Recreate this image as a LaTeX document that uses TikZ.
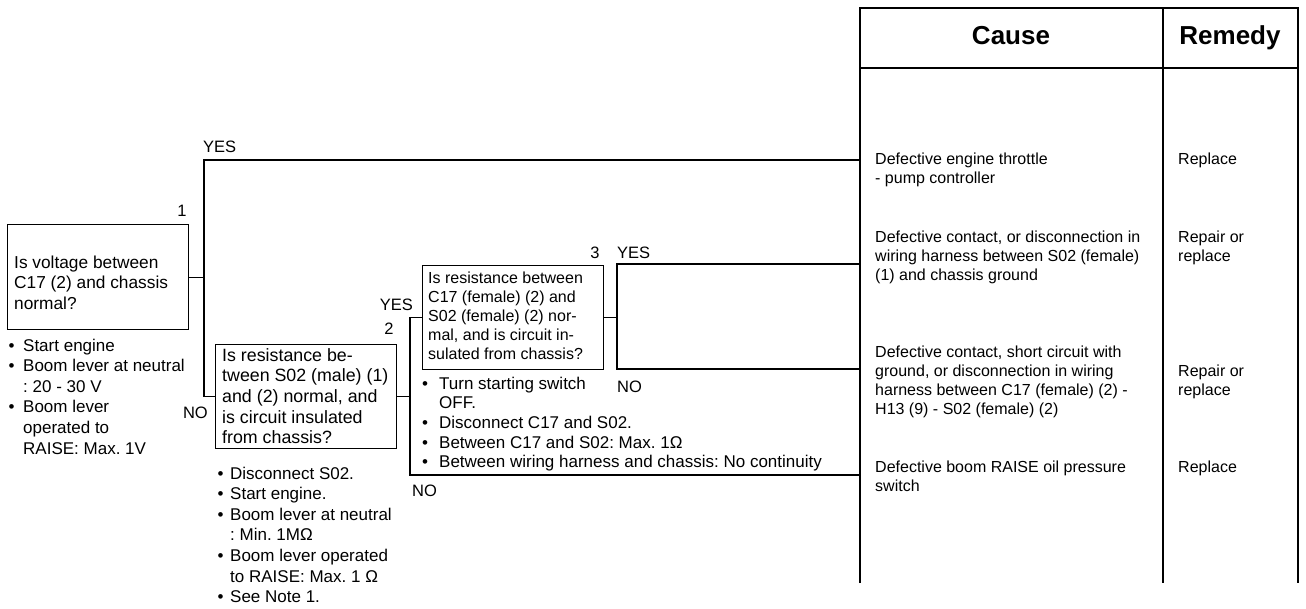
\documentclass[tikz,border=0pt]{standalone}
\usepackage{fontspec}
\setmainfont{Liberation Sans}
\newcommand\myfs[2]{\fontsize{#1}{#2}\selectfont}
\newcommand\bitem[2]{\makebox[#1][l]{•}#2}
\frenchspacing
\begin{document}
\frenchspacing
\begin{tikzpicture}[x=1pt,y=-1pt,
  wire/.style={line width=1.2pt},
  boxst/.style={draw, line width=1.2pt, inner sep=0pt, anchor=north west},
  txt/.style={inner sep=0pt, anchor=base west, align=left},
  lbl/.style={inner sep=0pt, font=\myfs{16.5}{19}},
  cause/.style={txt, font=\myfs{16}{19}\frenchspacing},
  head/.style={inner sep=0pt, anchor=base, font=\myfs{26}{30}\bfseries}]
\useasboundingbox (0,0) rectangle (1306,608);

% ---- table ----
\draw[wire] (860,583) -- (860,8) -- (1298,8) -- (1298,583);
\draw[wire] (1163,8) -- (1163,583);
\draw[wire] (860,68) -- (1298,68);
\node[head] (hcause) at (1011,44) {Cause};
\node[head] (hremedy) at (1230,44) {Remedy};

% multi-line nodes: anchor is the baseline of the last line
\node[cause] (c1) at (875,183) {Defective engine throttle\\- pump controller};
\node[cause] (c2) at (875,280) {Defective contact, or disconnection in\\wiring harness between S02 (female)\\(1) and chassis ground};
\node[cause] (c3) at (875,414) {Defective contact, short circuit with\\ground, or disconnection in wiring\\harness between C17 (female) (2) -\\H13 (9) - S02 (female) (2)};
\node[cause] (c4) at (875,491) {Defective boom RAISE oil pressure\\switch};
\node[cause] (r1) at (1178,164) {Replace};
\node[cause] (r2) at (1178,261) {Repair or\\replace};
\node[cause] (r3) at (1178,395) {Repair or\\replace};
\node[cause] (r4) at (1178,472) {Replace};

\coordinate (t1) at (860,160);
\coordinate (t2) at (860,264);
\coordinate (t3) at (860,369);
\coordinate (t4) at (860,475);

% ---- box 1 ----
\node[boxst, minimum width=181pt, minimum height=105pt] (b1) at (7,224) {};
\node[txt, font=\myfs{17.3}{20.5}\frenchspacing] (b1t) at (14,309) {Is voltage between\\C17 (2) and chassis\\normal?};
\node[lbl, anchor=base] (n1) at (182,216) {1};
\node[txt, font=\myfs{17}{20.6}\frenchspacing] (b1n) at (8.5,454) {\bitem{14.5pt}{Start engine}\\\bitem{14.5pt}{Boom lever at neutral}\\\hspace*{14.5pt}: 20 - 30 V\\\bitem{14.5pt}{Boom lever}\\\hspace*{14.5pt}operated to\\\hspace*{14.5pt}RAISE: Max. 1V};

% ---- box 2 ----
\node[boxst, minimum width=181pt, minimum height=104pt] (b2) at (215,344) {};
\node[txt, font=\myfs{17.8}{20.7}\frenchspacing] (b2t) at (222,443.8) {Is resistance be-\\tween S02 (male) (1)\\and (2) normal, and\\is circuit insulated\\from chassis?};
\node[lbl, anchor=base] (n2) at (389,334) {2};
\node[txt, font=\myfs{17}{20.6}\frenchspacing] (b2n) at (217.5,602.6) {\bitem{12.5pt}{Disconnect S02.}\\\bitem{12.5pt}{Start engine.}\\\bitem{12.5pt}{Boom lever at neutral}\\\hspace*{12.5pt}: Min. 1MΩ\\\bitem{12.5pt}{Boom lever operated}\\\hspace*{12.5pt}to RAISE: Max. 1 Ω\\\bitem{12.5pt}{See Note 1.}};

% ---- box 3 ----
\node[boxst, minimum width=181pt, minimum height=104pt] (b3) at (422,265) {};
\node[txt, font=\myfs{16}{19}\frenchspacing] (b3t) at (428,359) {Is resistance between\\C17 (female) (2) and\\S02 (female) (2) nor-\\mal, and is circuit in-\\sulated from chassis?};
\node[lbl, anchor=base] (n3) at (595,258) {3};
\node[txt, font=\myfs{17}{19.7}\frenchspacing] (b3n) at (422,467.8) {\bitem{17pt}{Turn starting switch}\\\hspace*{17pt}OFF.\\\bitem{17pt}{Disconnect C17 and S02.}\\\bitem{17pt}{Between C17 and S02: Max. 1Ω}\\\bitem{17pt}{Between wiring harness and chassis: No continuity}};

% ---- connectors ----
\coordinate (j1t) at (204,160);
\coordinate (j2b) at (410,475);
\coordinate (j3t) at (617,264);
\coordinate (j3b) at (617,369);

\draw[wire] (b1.east) -- (b1.east -| j1t);
\draw[wire] (t1) -- (j1t) |- (b2.west);
\draw[wire] (b2.east) -- (b2.east -| j2b);
\draw[wire] (t4) -- (j2b) |- (b3.west);
\draw[wire] (b3.east) -- (b3.east -| j3t);
\draw[wire] (t2) -- (j3t) -- (j3b) -- (t3);

% ---- labels ----
\node[lbl, anchor=base west] (y1) at (203,152) {YES};
\node[lbl, anchor=base east] (no1) at (208,418) {NO};
\node[lbl, anchor=base east] (y2) at (413,310) {YES};
\node[lbl, anchor=base west] (no2) at (412,496) {NO};
\node[lbl, anchor=base west] (y3) at (617,258) {YES};
\node[lbl, anchor=base west] (no3) at (617,392) {NO};
\end{tikzpicture}
\end{document}
